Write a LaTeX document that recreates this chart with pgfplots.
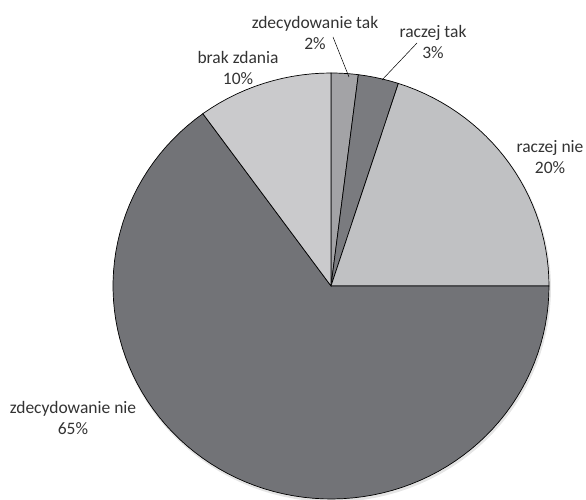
\documentclass[border=0pt]{standalone}
\usepackage{pgfplots}
\pgfplotsset{compat=1.18}
\usepackage{fontspec}
\setmainfont{Carlito}
\definecolor{cZT}{HTML}{A3A3A6}
\definecolor{cRT}{HTML}{7A7B7F}
\definecolor{cRN}{HTML}{C0C1C3}
\definecolor{cZN}{HTML}{727377}
\definecolor{cBZ}{HTML}{CACACC}
% percentages: zdecydowanie tak 2, raczej tak 3, raczej nie 20, zdecydowanie nie 65, brak zdania 10
\begin{document}
\begin{tikzpicture}
\begin{axis}[
  scale only axis, width=586bp, height=500bp,
  xmin=0, xmax=586, ymin=0, ymax=500,
  hide axis, clip=false,
]
% shadow
\addplot[fill=black!10, draw=none, domain=0:360, samples=120, variable=\t]
  ({332+219*cos(t)},{212+214*sin(t)}) -- cycle;
% slices, clockwise from 90 degrees
\addplot[fill=cZT, draw=black, line width=0.7pt, domain={90}:{90-3.6*2}, samples=6, variable=\t]
  ({331+218*cos(t)},{214+213*sin(t)}) -- (axis cs:331,214) -- cycle;
\addplot[fill=cRT, draw=black, line width=0.7pt, domain={90-3.6*2}:{90-3.6*5}, samples=6, variable=\t]
  ({331+218*cos(t)},{214+213*sin(t)}) -- (axis cs:331,214) -- cycle;
\addplot[fill=cRN, draw=black, line width=0.7pt, domain={90-3.6*5}:{90-3.6*25}, samples=30, variable=\t]
  ({331+218*cos(t)},{214+213*sin(t)}) -- (axis cs:331,214) -- cycle;
\addplot[fill=cZN, draw=black, line width=0.7pt, domain={90-3.6*25}:{90-3.6*90}, samples=90, variable=\t]
  ({331+218*cos(t)},{214+213*sin(t)}) -- (axis cs:331,214) -- cycle;
\addplot[fill=cBZ, draw=black, line width=0.7pt, domain={90-3.6*90}:{90-3.6*100}, samples=15, variable=\t]
  ({331+218*cos(t)},{214+213*sin(t)}) -- (axis cs:331,214) -- cycle;
% leader lines
\draw[black, line width=0.5pt] (axis cs:333,463) -- (axis cs:349,423);
\draw[black, line width=0.5pt] (axis cs:417,457) -- (axis cs:382,420);
% labels
\begin{scope}[every node/.style={align=center, font=\fontsize{17.5bp}{20.5bp}\selectfont, text=black!80, inner sep=0pt}]
\node at (axis cs:315,467) {zdecydowanie tak\\2\%};
\node at (axis cs:433,458) {raczej tak\\3\%};
\node at (axis cs:550,343) {raczej nie\\20\%};
\node at (axis cs:73,82) {zdecydowanie nie\\65\%};
\node at (axis cs:238,432) {brak zdania\\10\%};
\end{scope}
\end{axis}
\pgfresetboundingbox
\path (current axis.south west) rectangle (current axis.north east);
\end{tikzpicture}
\end{document}
